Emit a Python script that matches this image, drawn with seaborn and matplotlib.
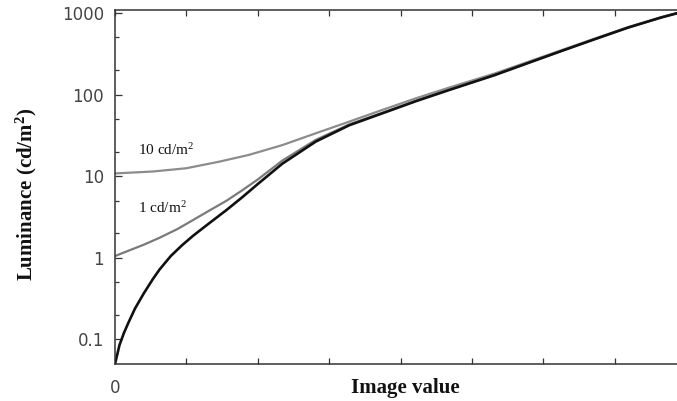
import numpy as np
import pandas as pd
import matplotlib
matplotlib.use("Agg")
import matplotlib.pyplot as plt
import matplotlib.ticker as mticker
import seaborn as sns

# Display luminance versus image value, for a dark room and two ambient levels
image_value_dark = [0, 2, 4, 6, 9, 13, 17, 20, 25, 30, 35, 42, 50, 57, 64, 75,
                    90, 105, 120, 135, 150, 170, 185, 200, 215, 230, 245, 255]
luminance_dark = [0.05, 0.085, 0.12, 0.16, 0.24, 0.37, 0.55, 0.72, 1.05, 1.42,
                  1.86, 2.62, 3.85, 5.5, 8.0, 14.2, 26.5, 42, 59, 83, 114, 172,
                  242, 340, 475, 660, 880, 1040]

image_value_1cd = [0, 7, 13, 20, 28, 35, 42, 50, 57, 64, 75, 90, 105, 120, 135,
                   150, 170, 185, 200, 215, 230, 245, 255]
luminance_1cd = [1.05, 1.25, 1.45, 1.76, 2.25, 2.9, 3.75, 5.0, 6.7, 9.1, 15.5,
                 27.8, 43, 60, 84, 115, 173, 243, 341, 476, 661, 881, 1041]

image_value_10cd = [0, 17, 32, 47, 60, 75, 90, 105, 120, 135, 150, 170, 185,
                    200, 215, 230, 245, 255]
luminance_10cd = [10.8, 11.4, 12.5, 15.1, 18.2, 24, 33.5, 46.5, 65, 90, 122,
                  180, 250, 348, 483, 668, 888, 1048]

y_major = [0.1, 1, 10, 100, 1000]
y_major_labels = ["0.1", "1", "10", "100", "1000"]
y_minor = [0.2, 0.5, 2, 5, 20, 50, 200, 500]
x_ticks = [0, 32, 64, 96, 128, 160, 192, 224, 256]
x_tick_labels = ["0", "", "", "", "", "", "", "", ""]

sns.set_theme(style="ticks")
plt.rcParams["mathtext.fontset"] = "custom"
plt.rcParams["mathtext.rm"] = "Liberation Serif"
plt.rcParams["mathtext.it"] = "Liberation Serif:italic"
plt.rcParams["mathtext.bf"] = "Liberation Serif:bold"

fig = plt.figure(figsize=(6.77, 4.01), dpi=100)
ax = fig.add_axes([115 / 677, 1 - 364 / 401, 571 / 677, (364 - 9.5) / 401])

df_10 = pd.DataFrame({"v": image_value_10cd, "L": luminance_10cd})
df_1 = pd.DataFrame({"v": image_value_1cd, "L": luminance_1cd})
df_0 = pd.DataFrame({"v": image_value_dark, "L": luminance_dark})

sns.lineplot(data=df_10, x="v", y="L", ax=ax, color="#8c8c8c", lw=1.6,
             estimator=None, legend=False)
sns.lineplot(data=df_1, x="v", y="L", ax=ax, color="#7a7a7a", lw=1.6,
             estimator=None, legend=False)
sns.lineplot(data=df_0, x="v", y="L", ax=ax, color="#111111", lw=1.9,
             estimator=None, legend=False)

ax.set_yscale("log")
ax.set_xlim(0, 256)
ax.set_ylim(0.05, 1100)

ax.yaxis.set_major_locator(mticker.FixedLocator(y_major))
ax.yaxis.set_major_formatter(mticker.FixedFormatter(y_major_labels))
ax.yaxis.set_minor_locator(mticker.FixedLocator(y_minor))
ax.yaxis.set_minor_formatter(mticker.NullFormatter())
ax.xaxis.set_major_locator(mticker.FixedLocator(x_ticks))
ax.xaxis.set_major_formatter(mticker.FixedFormatter(x_tick_labels))
ax.xaxis.set_minor_locator(mticker.NullLocator())

for side in ["left", "right", "top", "bottom"]:
    ax.spines[side].set_color("#333333")
    ax.spines[side].set_linewidth(1.1)

ax.tick_params(axis="both", which="both", direction="in", top=True, right=True,
               color="#333333", width=0.9)
ax.tick_params(axis="y", which="major", length=5, pad=8,
               labelsize=12, labelcolor="#444444")
ax.tick_params(axis="y", which="minor", length=3)
ax.tick_params(axis="x", which="major", length=4, pad=11,
               labelsize=12, labelcolor="#444444")

ax.set_xlabel("Image value", family="Liberation Serif", fontweight="bold",
              fontsize=15, color="#111111")
ax.xaxis.set_label_coords((405 - 115) / 571, -(388 - 364) / 354.5)
ax.xaxis.label.set_va("center")

ax.set_ylabel(r"Luminance (cd/m$^\mathbf{2}$)", family="Liberation Serif",
              fontweight="bold", fontsize=15, color="#111111")
ax.yaxis.set_label_coords((26 - 115) / 571, 1 - (194 - 9.5) / 354.5)
ax.yaxis.label.set_va("center")

ax.text(10.3, 18.2, r"10 cd/m$^2$", family="Liberation Serif", fontsize=11,
        color="#111111", ha="left", va="baseline")
ax.text(10.3, 3.55, r"1 cd/m$^2$", family="Liberation Serif", fontsize=11,
        color="#111111", ha="left", va="baseline")

fig.savefig("out.png", dpi=100)
